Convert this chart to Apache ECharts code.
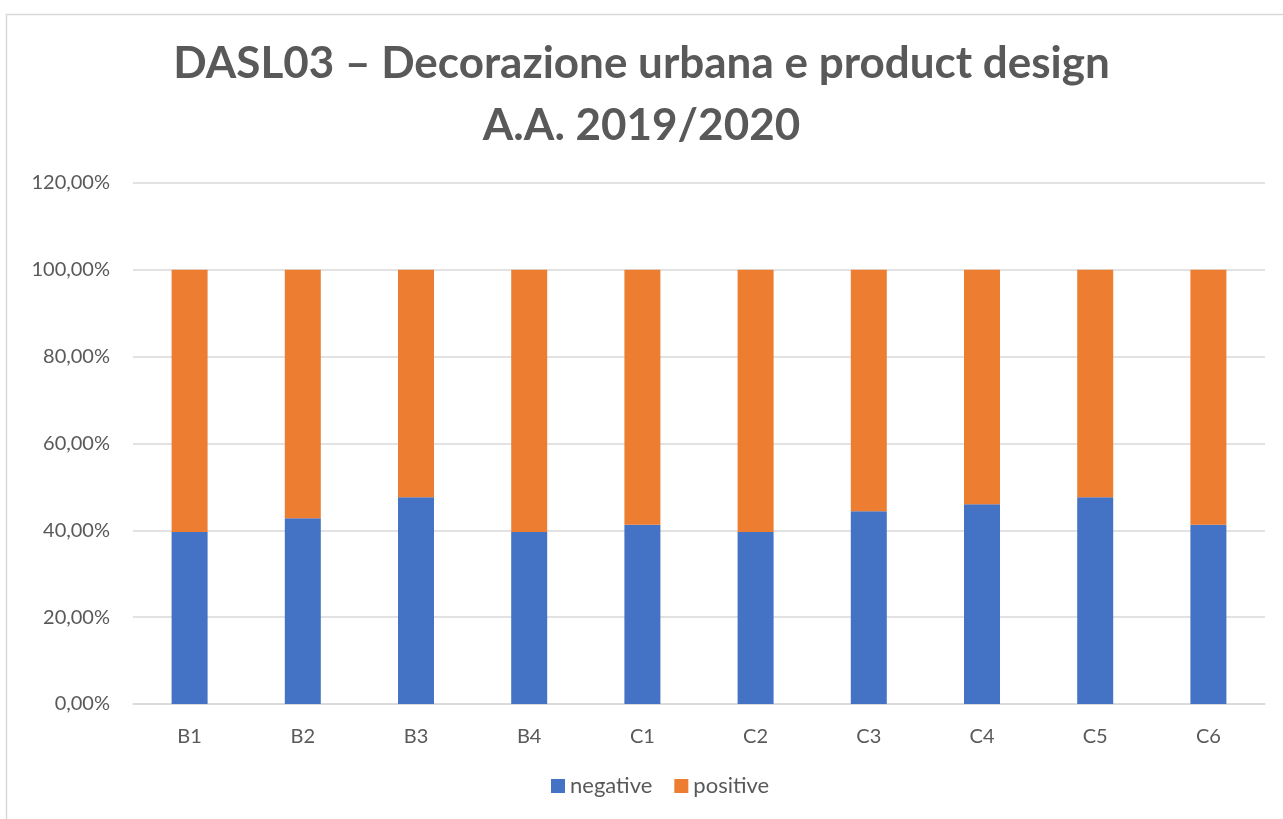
<!DOCTYPE html>
<html>
<head>
<meta charset="utf-8">
<script src="https://cdn.jsdelivr.net/npm/echarts@6/dist/echarts.min.js"></script>
<style>html,body{margin:0;padding:0;background:#fff}#c{width:1283px;height:819px}</style>
</head>
<body>
<div id="c"></div>
<script>
const categories = ['B1','B2','B3','B4','C1','C2','C3','C4','C5','C6'];
const negative = [39.6, 42.8, 47.6, 39.6, 41.3, 39.6, 44.4, 46.0, 47.6, 41.3];
const positive = [60.4, 57.2, 52.4, 60.4, 58.7, 60.4, 55.6, 54.0, 52.4, 58.7];
const titleLines = ['DASL03 – Decorazione urbana e product design', 'A.A. 2019/2020'];

const FONT = 'Lato';
const chart = echarts.init(document.getElementById('c'));
chart.setOption({
  animation: false,
  graphic: [{
    type: 'rect', left: 4, top: 12,
    shape: { width: 1300, height: 830 },
    style: { fill: 'none', stroke: '#d9d9d9', lineWidth: 1.5 }
  }, {
    type: 'text', left: 'center', top: 33,
    style: { text: titleLines.join('\n'), font: 'bold 44px ' + FONT, fill: '#595959', textAlign: 'center', lineHeight: 62 }
  }],
  grid: { left: 133, right: 18, top: 183, bottom: 115 },
  legend: {
    bottom: 17, left: 546, itemWidth: 14, itemHeight: 14, itemGap: 22,
    icon: 'rect',
    textStyle: { fontFamily: FONT, fontSize: 22, color: '#595959' },
    data: ['negative', 'positive']
  },
  xAxis: {
    type: 'category', data: categories,
    axisLine: { lineStyle: { color: '#d9d9d9', width: 1.5 } },
    axisTick: { show: false },
    axisLabel: { fontFamily: FONT, fontSize: 20, color: '#595959', margin: 23 }
  },
  yAxis: {
    type: 'value', min: 0, max: 120, interval: 20,
    axisLine: { show: false }, axisTick: { show: false },
    splitLine: { lineStyle: { color: '#d9d9d9', width: 1.5 } },
    axisLabel: { fontFamily: FONT, fontSize: 20, color: '#595959', margin: 23,
      formatter: v => v.toFixed(2).replace('.', ',') + '%' }
  },
  series: [{
    name: 'negative', type: 'bar', stack: 's', data: negative, barWidth: 36,
    itemStyle: { color: '#4472c4' }
  }, {
    name: 'positive', type: 'bar', stack: 's', data: positive, barWidth: 36,
    itemStyle: { color: '#ed7d31' }
  }]
});
</script>
</body>
</html>
